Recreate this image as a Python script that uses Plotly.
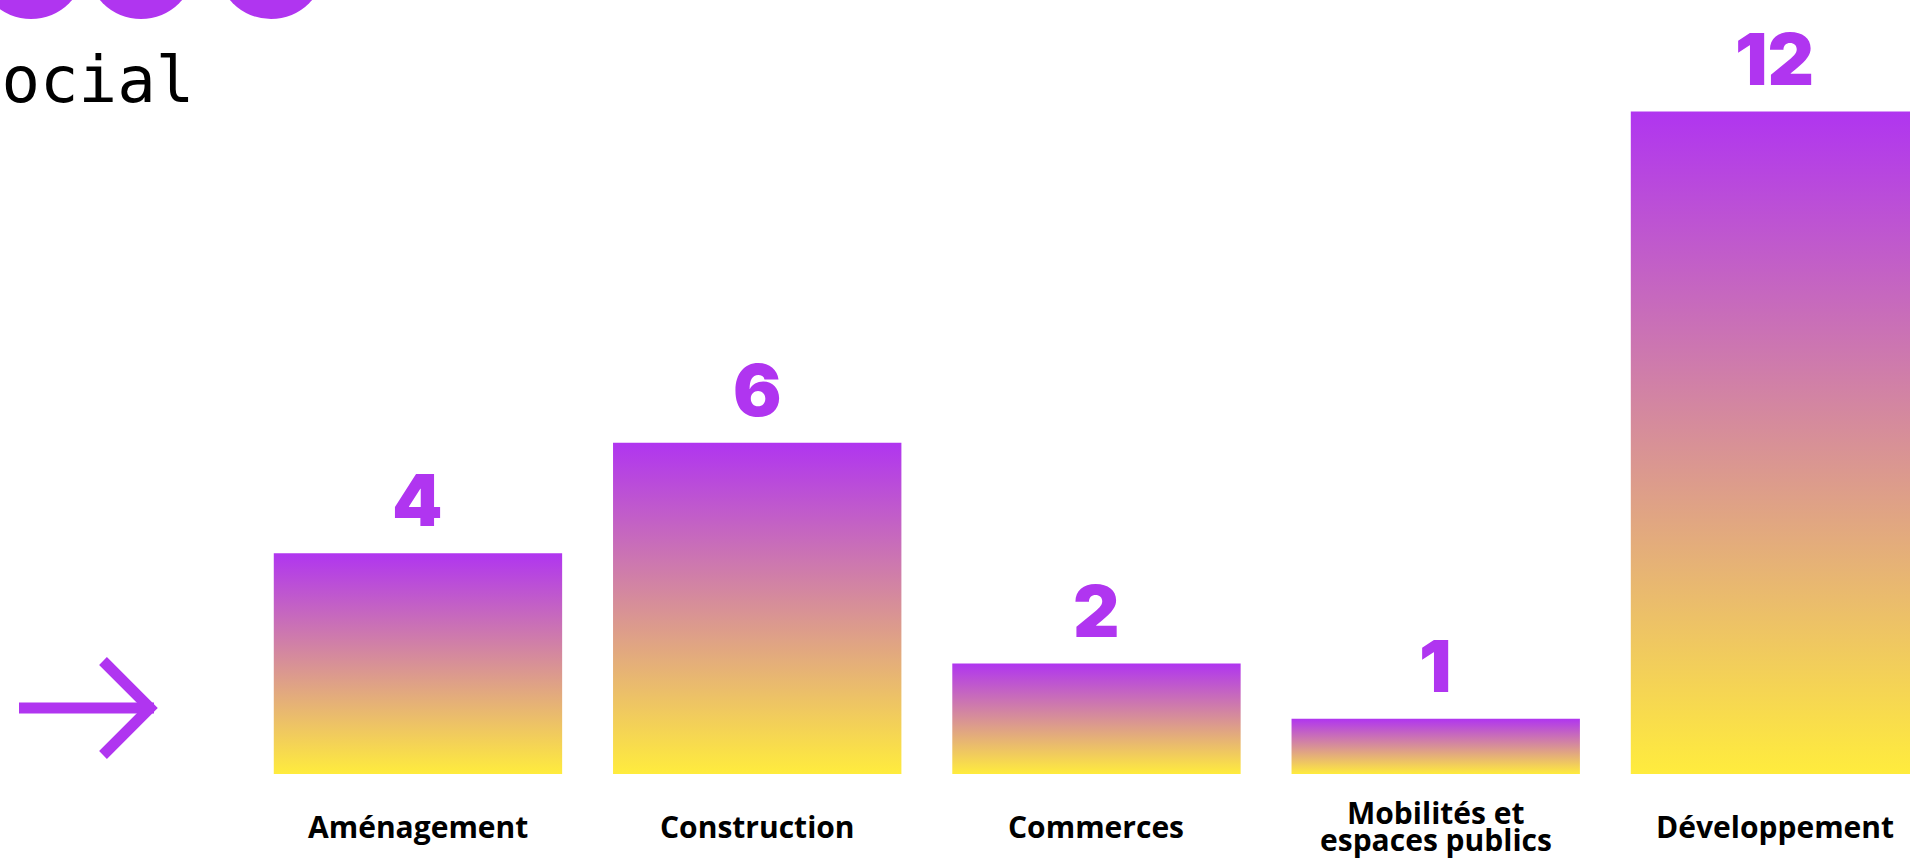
import plotly.graph_objects as go

# Data
categories = ["Aménagement", "Construction", "Commerces",
              "Mobilités et<br>espaces publics", "Développement"]
values = [4, 6, 2, 1, 12]

# Style
PURPLE = "#B035F0"
YELLOW = "#FFEC3D"
W, H = 1910, 860
M_B = 86
PLOT_H = H - M_B
BAR_W = 0.85
X_RANGE = [-1.232, 4.398]
Y_RANGE = [0, 14.02]


def px(x):
    """Figure pixel x -> paper x."""
    return x / W


def py(y):
    """Figure pixel y (from top) -> paper y."""
    return (PLOT_H - y) / PLOT_H


fig = go.Figure()

for i, (cat, v) in enumerate(zip(categories, values)):
    x0, x1 = i - BAR_W / 2, i + BAR_W / 2
    fig.add_trace(go.Scatter(
        x=[x0, x1, x1, x0, x0], y=[0, 0, v, v, 0],
        mode="lines", fill="toself", line=dict(width=0, color=PURPLE),
        fillgradient=dict(type="vertical",
                          colorscale=[[0, YELLOW], [1, PURPLE]]),
        hoverinfo="skip", showlegend=False,
    ))
    # value above the bar
    fig.add_annotation(
        x=i, y=v, xref="x", yref="y", text=str(v), showarrow=False,
        yanchor="bottom", yshift=8,
        font=dict(family="Inter", size=72, color=PURPLE, weight=900),
    )
    # category label below the bar (one annotation per line, tight leading)
    lines = cat.split("<br>")
    n = len(lines)
    for k, line in enumerate(lines):
        cy = 826 + (k - (n - 1) / 2) * 27
        fig.add_annotation(
            x=i, y=py(cy), xref="x", yref="paper", text=line,
            showarrow=False, yanchor="middle",
            font=dict(family="Open Sans", size=30, color="#000000", weight=700),
        )

# heading fragment in the top-left corner
fig.add_annotation(
    x=px(-39), y=py(41), xref="paper", yref="paper", text="social",
    showarrow=False, xanchor="left", yanchor="top",
    font=dict(family="DejaVu Sans Mono", size=64, color="#000000"),
)
shapes = []
for cx in (31, 141, 271):
    r = 54
    shapes.append(dict(type="circle", xref="paper", yref="paper",
                       x0=px(cx - r), x1=px(cx + r),
                       y0=py(-35 + r), y1=py(-35 - r),
                       fillcolor=PURPLE, line=dict(width=0)))

# arrow at the left
shapes.append(dict(type="line", xref="paper", yref="paper",
                   x0=px(19), x1=px(154), y0=py(708), y1=py(708),
                   line=dict(color=PURPLE, width=11)))
pts = [(103, 661), (150, 708), (103, 755)]
path = "M " + " L ".join(f"{px(a):.5f},{py(b):.5f}" for a, b in pts)
shapes.append(dict(type="path", xref="paper", yref="paper", path=path,
                   line=dict(color=PURPLE, width=11)))

fig.update_layout(
    width=W, height=H,
    margin=dict(l=0, r=0, t=0, b=M_B),
    paper_bgcolor="white", plot_bgcolor="white",
    shapes=shapes,
    xaxis=dict(range=X_RANGE, visible=False, fixedrange=True),
    yaxis=dict(range=Y_RANGE, visible=False, fixedrange=True),
    showlegend=False,
)

fig.write_html("out.html", config={"displayModeBar": False})
